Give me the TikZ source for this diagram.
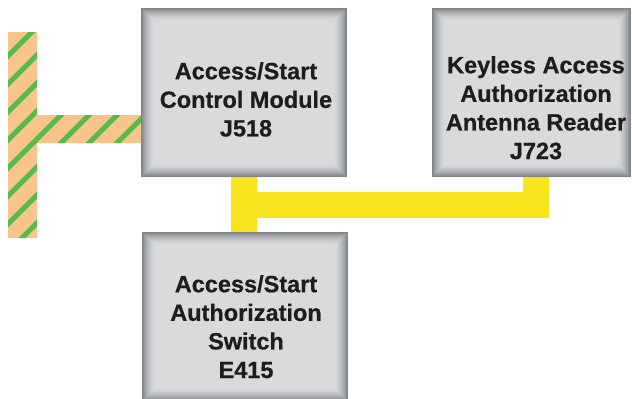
\documentclass[tikz,border=0pt]{standalone}
\usepackage{fontspec}
\usetikzlibrary{backgrounds}
\newfontfamily\lblfont{Liberation Sans}[FakeBold=0.6]
\definecolor{boxface}{HTML}{D9DBDD}
\definecolor{boxrim}{HTML}{7F8388}
\definecolor{busyellow}{HTML}{F7E51E}
\definecolor{hatchorange}{HTML}{F8C48C}
\definecolor{hatchgreen}{HTML}{5CB848}
\definecolor{lbltext}{HTML}{1E1C1D}
\tikzset{
  module/.style={rectangle, inner sep=0pt, fill=boxface, minimum height=169pt,
    path picture={
      \foreach \i in {0,...,13}{
        \pgfmathsetmacro\m{100*(1-\i/14)^1.8}
        \fill[boxrim!\m!boxface]
          ([xshift=\i pt, yshift=-\i pt]path picture bounding box.north west)
          rectangle
          ([xshift=-\i pt, yshift=\i pt]path picture bounding box.south east);
      }
    }},
  lbl/.style={inner sep=0pt, align=center, anchor=north, text=lbltext,
    font=\lblfont\bfseries\fontsize{23.5}{28.6}\selectfont},
  bus/.style={draw=busyellow, line width=26pt, line join=miter},
  stripe/.style={draw=hatchgreen, line width=5pt},
}
\newcommand{\capstrut}{\rule{0pt}{17pt}}
\begin{document}
\begin{tikzpicture}[x=1pt, y=-1pt]
  \useasboundingbox (0,0) rectangle (632,399);
  \clip (0,0) rectangle (632,399);

  % shaded unit boxes
  \node[module, minimum width=206pt] (j518) at (244,92.5) {};
  \node[module, minimum width=199pt] (j723) at (531.5,92.5) {};
  \node[module, minimum width=206pt] (e415) at (245,316.5) {};

  % labels
  \node[lbl] (j518t) at (246,62) {\capstrut Access/Start\\Control Module\\J518};
  \node[lbl] (j723t) at (536,56) {\capstrut Keyless Access\\Authorization\\Antenna Reader\\J723};
  \node[lbl] (e415t) at (246,275) {\capstrut Access/Start\\Authorization\\Switch\\E415};

  \begin{scope}[on background layer]
    % yellow data bus between the units
    \coordinate (busrow) at (0,205);
    \path[bus] (j518.south) -- (j518.south |- e415.north);
    \path[bus] (j518.south |- busrow) -| ([xshift=4pt]j723.south);

    % hatched wiring to the control module
    \coordinate (hatchtop) at (22.5,32);
    \coordinate (hatchbot) at (22.5,238);
    \begin{scope}
      \clip ([xshift=-14.5pt]hatchtop) rectangle ([xshift=14.5pt]hatchbot)
            (37,115) rectangle ([yshift=-50.5pt]j518.west);
      \fill[hatchorange] (0,0) rectangle (160,260);
      \foreach \k in {-12,...,6}
        \draw[stripe] (\k*28,260) -- ++(270,-270);
    \end{scope}
  \end{scope}
\end{tikzpicture}
\end{document}
